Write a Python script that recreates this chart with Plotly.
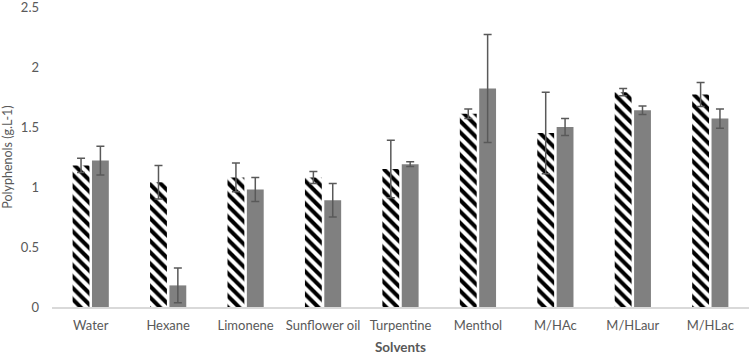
import plotly.graph_objects as go

solvents = ["Water", "Hexane", "Limonene", "Sunflower oil", "Turpentine", "Menthol", "M/HAc", "M/HLaur", "M/HLac"]
hatched_vals = [1.18, 1.04, 1.08, 1.08, 1.15, 1.61, 1.45, 1.79, 1.77]
hatched_err = [0.06, 0.14, 0.12, 0.05, 0.24, 0.04, 0.34, 0.03, 0.10]
solid_vals = [1.22, 0.18, 0.98, 0.89, 1.19, 1.82, 1.50, 1.64, 1.57]
solid_err = [0.12, 0.145, 0.10, 0.14, 0.02, 0.45, 0.07, 0.035, 0.08]
y_ticks = [0, 0.5, 1, 1.5, 2, 2.5]
y_tick_text = ["0", "0.5", "1", "1.5", "2", "2.5"]

font_family = "Lato, Open Sans, sans-serif"
err_color = "#595959"

fig = go.Figure()
fig.add_trace(go.Bar(
    x=solvents, y=hatched_vals,
    marker=dict(color="white", line=dict(width=0),
                pattern=dict(shape="\\", fgcolor="black", bgcolor="white", fgopacity=1,
                             size=8, solidity=0.5, fillmode="replace")),
    error_y=dict(type="data", array=hatched_err, color=err_color, thickness=1.5, width=4),
    showlegend=False,
))
fig.add_trace(go.Bar(
    x=solvents, y=solid_vals,
    marker=dict(color="#808080", line=dict(width=0)),
    error_y=dict(type="data", array=solid_err, color=err_color, thickness=1.5, width=4),
    showlegend=False,
))

fig.update_layout(
    width=749, height=356,
    margin=dict(l=52, r=0, t=7, b=49),
    paper_bgcolor="white", plot_bgcolor="white",
    barmode="group", bargap=0.5, bargroupgap=0.13,
    font=dict(family=font_family, size=13, color="#595959"),
)
fig.update_xaxes(
    automargin=False,
    showline=True, linecolor="#d9d9d9", linewidth=1.5, showgrid=False, ticks="",
    tickfont=dict(size=13, color="#595959"),
    ticklabelstandoff=6, ticklabeloverflow="allow",
    title=dict(text="<b>Solvents</b>", font=dict(size=13.5, color="#595959"), standoff=10),
)
fig.update_yaxes(
    automargin=False,
    range=[0, 2.5], tickvals=y_ticks, ticktext=y_tick_text,
    showline=False, showgrid=False, zeroline=False, ticks="",
    ticklabelstandoff=12, ticklabeloverflow="allow",
    tickfont=dict(size=13, color="#595959"),
    title=dict(text="Polyphenols (g.L-1)", font=dict(size=12.5, color="#595959"), standoff=9),
)

fig.write_html("out.html", config={"displayModeBar": False},
               post_script="document.body.style.margin='0';document.body.style.overflow='hidden';")
